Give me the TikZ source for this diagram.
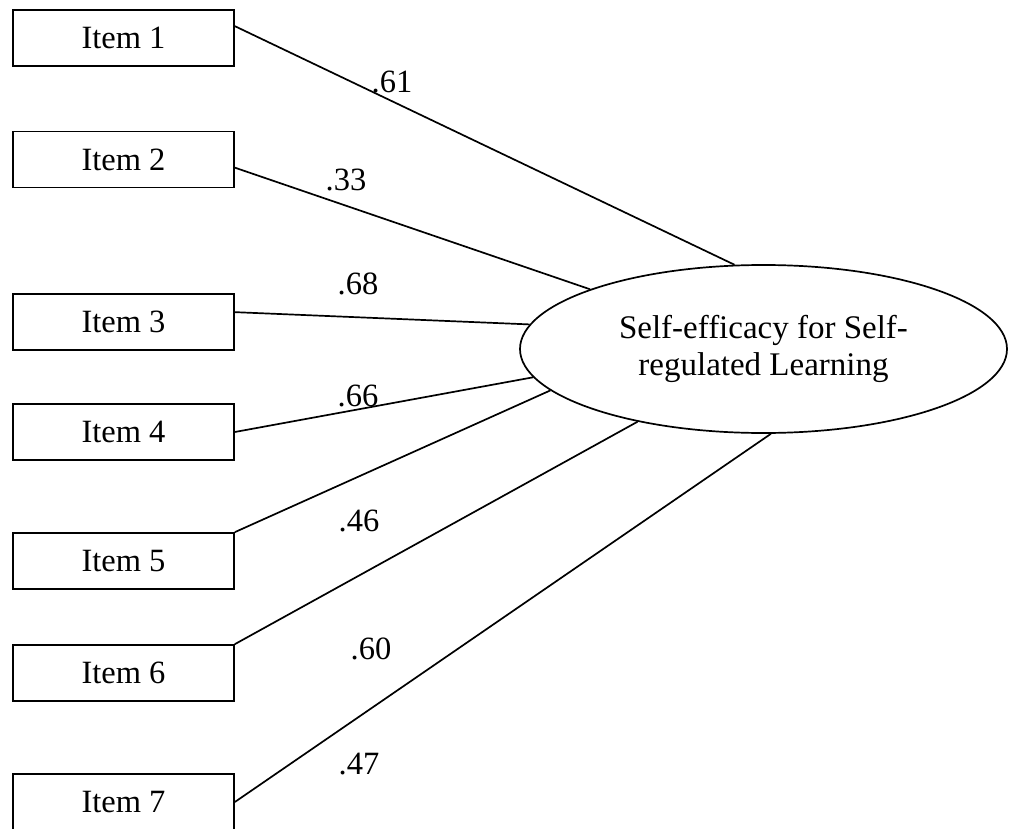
\documentclass[tikz,border=0pt]{standalone}
\usepackage{fontspec}
\setmainfont{Liberation Serif}
\usetikzlibrary{shapes.geometric}
\begin{document}
\begin{tikzpicture}[x=1pt,y=-1pt,
  itembox/.style={draw,line width=1.7pt,minimum width=221pt,minimum height=56pt,inner sep=0pt,font=\fontsize{32.5}{37}\selectfont},
  latent/.style={draw,ellipse,line width=1.7pt,minimum width=487pt,minimum height=168pt,inner sep=0pt,align=center,font=\fontsize{33}{37}\selectfont},
  coef/.style={inner sep=0pt,font=\fontsize{32.5}{37}\selectfont},
  path/.style={line width=1.7pt}]
\clip (0,0) rectangle (1011,829);
\fill[white] (0,0) rectangle (1011,829);
\node[itembox] (i1) at (123.5,38) {Item 1};
\node[itembox] (i2) at (123.5,159.5) {Item 2};
\node[itembox] (i3) at (123.5,322) {Item 3};
\node[itembox] (i4) at (123.5,432) {Item 4};
\node[itembox] (i5) at (123.5,561) {Item 5};
\node[itembox] (i6) at (123.5,673) {Item 6};
\node[itembox] (i7) at (123.5,802) {Item 7};
\node[latent] (e) at (763.5,349) {Self-efficacy for Self-\\regulated Learning};
\draw[path] ([yshift=-17pt]i1.north east) -- (e.109.3);
\draw[path] ([yshift=-37pt]i2.north east) -- (e.161.2);
\draw[path] ([yshift=-19pt]i3.north east) -- (e.174.3);
\draw[path] (i4.east) -- (e.187.4);
\draw[path] (i5.north east) -- (e.191.5);
\draw[path] (i6.north east) -- (e.210.5);
\draw[path] (i7.east) -- (e.275.8);
\node[coef] (c1) at (392,82) {.61};
\node[coef] (c2) at (346,180) {.33};
\node[coef] (c3) at (358,284) {.68};
\node[coef] (c4) at (358,396) {.66};
\node[coef] (c5) at (359,521) {.46};
\node[coef] (c6) at (371,649) {.60};
\node[coef] (c7) at (359,764) {.47};
\end{tikzpicture}
\end{document}
